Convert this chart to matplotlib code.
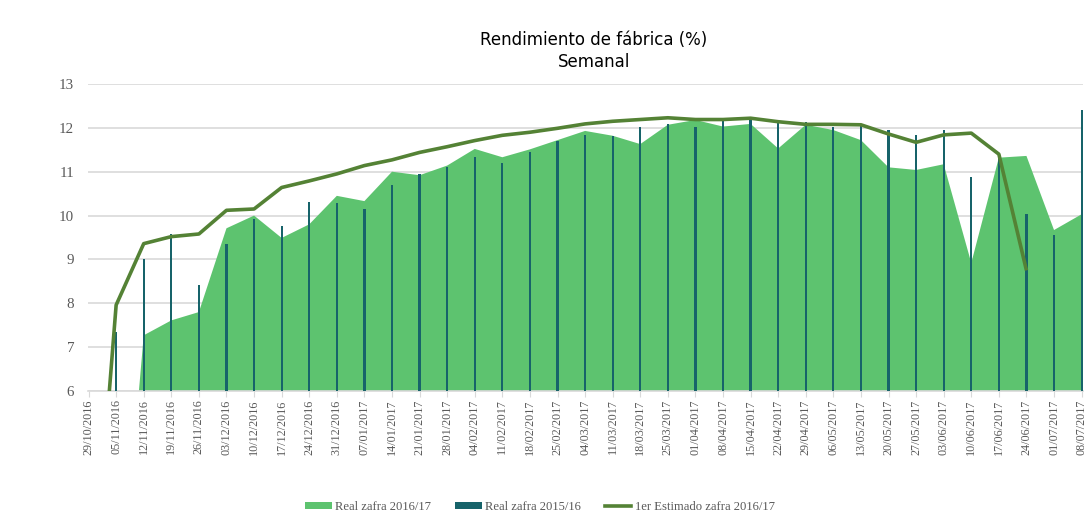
import matplotlib
matplotlib.use("Agg")
import matplotlib.pyplot as plt
from matplotlib.patches import Patch
from matplotlib.lines import Line2D
import numpy as np

weeks = ["29/10/2016", "05/11/2016", "12/11/2016", "19/11/2016", "26/11/2016",
         "03/12/2016", "10/12/2016", "17/12/2016", "24/12/2016", "31/12/2016",
         "07/01/2017", "14/01/2017", "21/01/2017", "28/01/2017", "04/02/2017",
         "11/02/2017", "18/02/2017", "25/02/2017", "04/03/2017", "11/03/2017",
         "18/03/2017", "25/03/2017", "01/04/2017", "08/04/2017", "15/04/2017",
         "22/04/2017", "29/04/2017", "06/05/2017", "13/05/2017", "20/05/2017",
         "27/05/2017", "03/06/2017", "10/06/2017", "17/06/2017", "24/06/2017",
         "01/07/2017", "08/07/2017"]

real_2016_17 = [0, 0, 7.27, 7.61, 7.80, 9.71, 10.00, 9.49, 9.80, 10.45,
                10.33, 11.00, 10.92, 11.14, 11.52, 11.33, 11.51, 11.72, 11.93, 11.82,
                11.63, 12.07, 12.18, 12.03, 12.09, 11.53, 12.07, 11.95, 11.72, 11.10,
                11.04, 11.17, 8.92, 11.32, 11.36, 9.67, 10.03]

real_2015_16 = [0, 7.35, 9.01, 9.58, 8.41, 9.36, 9.93, 9.77, 10.31, 10.29,
                10.16, 10.70, 10.94, 11.10, 11.33, 11.19, 11.46, 11.71, 11.83, 11.81,
                12.03, 12.09, 12.03, 12.16, 12.18, 12.10, 12.13, 12.03, 12.07, 11.95,
                11.84, 11.94, 10.89, 11.33, 10.03, 9.56, 12.41]

estimado_2016_17 = [0, 7.96, 9.36, 9.52, 9.58, 10.12, 10.15, 10.64, 10.79, 10.95,
                    11.14, 11.27, 11.44, 11.57, 11.71, 11.83, 11.90, 11.99, 12.09, 12.15,
                    12.19, 12.23, 12.19, 12.19, 12.22, 12.14, 12.08, 12.08, 12.07, 11.86,
                    11.67, 11.84, 11.88, 11.40, 8.75]

y_ticks = [6, 7, 8, 9, 10, 11, 12, 13]

c_area = "#5DC36F"
c_bar = "#17636A"
c_line = "#548235"
c_grid = "#D9D9D9"
c_text = "#595959"
serif = ["Liberation Serif", "DejaVu Serif"]

fig = plt.figure(figsize=(10.91, 5.21), dpi=100)
ax = fig.add_axes([88 / 1091, 1 - 391 / 521, (1083 - 88) / 1091, (391 - 84) / 521])

x = np.arange(len(weeks))
ax.fill_between(x, 0, real_2016_17, color=c_area, linewidth=0, zorder=2)
ax.bar(x, real_2015_16, width=0.08, color=c_bar, zorder=3)
ax.plot(np.arange(len(estimado_2016_17)), estimado_2016_17, color=c_line,
        linewidth=2.6, zorder=4, solid_joinstyle="round", solid_capstyle="butt")

ax.set_ylim(6, 13)
ax.set_xlim(-0.02, len(weeks) - 1 + 0.05)
ax.set_yticks(y_ticks)
ax.set_yticklabels([str(v) for v in y_ticks], fontfamily=serif, fontsize=10.8, color=c_text)
ax.set_xticks(x)
ax.set_xticklabels(weeks, rotation=90, fontfamily=serif, fontsize=8.7, color=c_text)
ax.tick_params(axis="y", length=0, pad=10)
ax.tick_params(axis="x", length=4, color=c_grid, pad=2)
ax.grid(axis="y", color=c_grid, linewidth=1.2, zorder=0)
ax.set_axisbelow(True)
for s in ["left", "right", "top"]:
    ax.spines[s].set_visible(False)
ax.spines["bottom"].set_color(c_grid)
ax.spines["bottom"].set_linewidth(1.2)

fig.text(594 / 1091, 1 - 40 / 521, "Rendimiento de fábrica (%)", ha="center", va="center",
         fontsize=12, color="black", fontfamily="DejaVu Sans")
fig.text(594 / 1091, 1 - 62 / 521, "Semanal", ha="center", va="center",
         fontsize=12, color="black", fontfamily="DejaVu Sans")

handles = [Patch(facecolor=c_area, edgecolor="none"),
           Patch(facecolor=c_bar, edgecolor="none"),
           Line2D([0], [0], color=c_line, linewidth=2.6)]
labels = ["Real zafra 2016/17", "Real zafra 2015/16", "1er Estimado zafra 2016/17"]
fig.legend(handles, labels, loc="center", bbox_to_anchor=(540 / 1091, 1 - 507 / 521),
           ncol=3, frameon=False, prop={"family": serif, "size": 9.1},
           handlelength=2.1, handleheight=0.55, handletextpad=0.25, columnspacing=1.9,
           labelcolor=c_text)

fig.savefig("out.png", dpi=100)
